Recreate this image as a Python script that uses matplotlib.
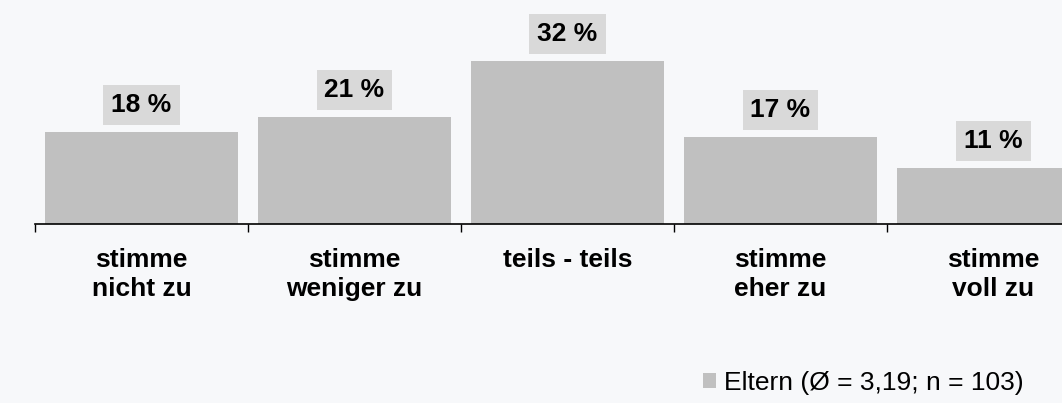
import numpy as np
import matplotlib
matplotlib.use("Agg")
import matplotlib.pyplot as plt
from matplotlib.patches import Patch

plt.rcParams['font.family'] = ['Liberation Sans', 'DejaVu Sans']

categories = ["stimme\nnicht zu", "stimme\nweniger zu", "teils - teils", "stimme\neher zu", "stimme\nvoll zu"]
values = [18, 21, 32, 17, 11]
legend_label = "Eltern (Ø = 3,19; n = 103)"

bg = "#F7F8FA"
bar_color = "#C0C0C0"
box_color = "#D9D9D9"

fig = plt.figure(figsize=(10.62, 4.03), dpi=100)
fig.patch.set_facecolor(bg)
ax = fig.add_axes([35 / 1062, 179 / 403, 1 - 35 / 1062, 224 / 403])
ax.set_facecolor(bg)

x = np.arange(len(values))
ax.bar(x, values, width=0.906, color=bar_color, zorder=2)

for xi, v in zip(x, values):
    ax.annotate(f"{v} %", xy=(xi, v), xytext=(0, 19.5), textcoords="offset points",
                ha="center", va="center", fontsize=19, fontweight="bold", color="black",
                bbox=dict(boxstyle="square,pad=0.3", facecolor=box_color, edgecolor="none"))

for s in ["top", "right", "left"]:
    ax.spines[s].set_visible(False)
ax.spines["bottom"].set_color("black")
ax.spines["bottom"].set_linewidth(1.2)
ax.set_yticks([])

ax.set_xticks(x)
ax.set_xticklabels(categories, fontsize=19, fontweight="bold", va="top", linespacing=1.3)
ax.tick_params(axis="x", which="major", length=0, pad=17)
ax.set_xticks(np.arange(-0.5, len(values), 1), minor=True)
ax.tick_params(axis="x", which="minor", length=6, width=1, color="black", direction="out")

# limits after the ticks, otherwise set_xticks widens them
ax.set_xlim(-0.5, (1062 - 35) / 213 - 0.5)
ax.set_ylim(0, 224 / 5.1)

handle = Patch(facecolor=bar_color, edgecolor="none")
fig.legend([handle], [legend_label], loc="center right", bbox_to_anchor=(0.964, 0.05),
           frameon=False, fontsize=19, handlelength=0.5, handleheight=0.5,
           handletextpad=0.3, borderpad=0, borderaxespad=0)

fig.savefig("out.png", dpi=100, facecolor=bg)
